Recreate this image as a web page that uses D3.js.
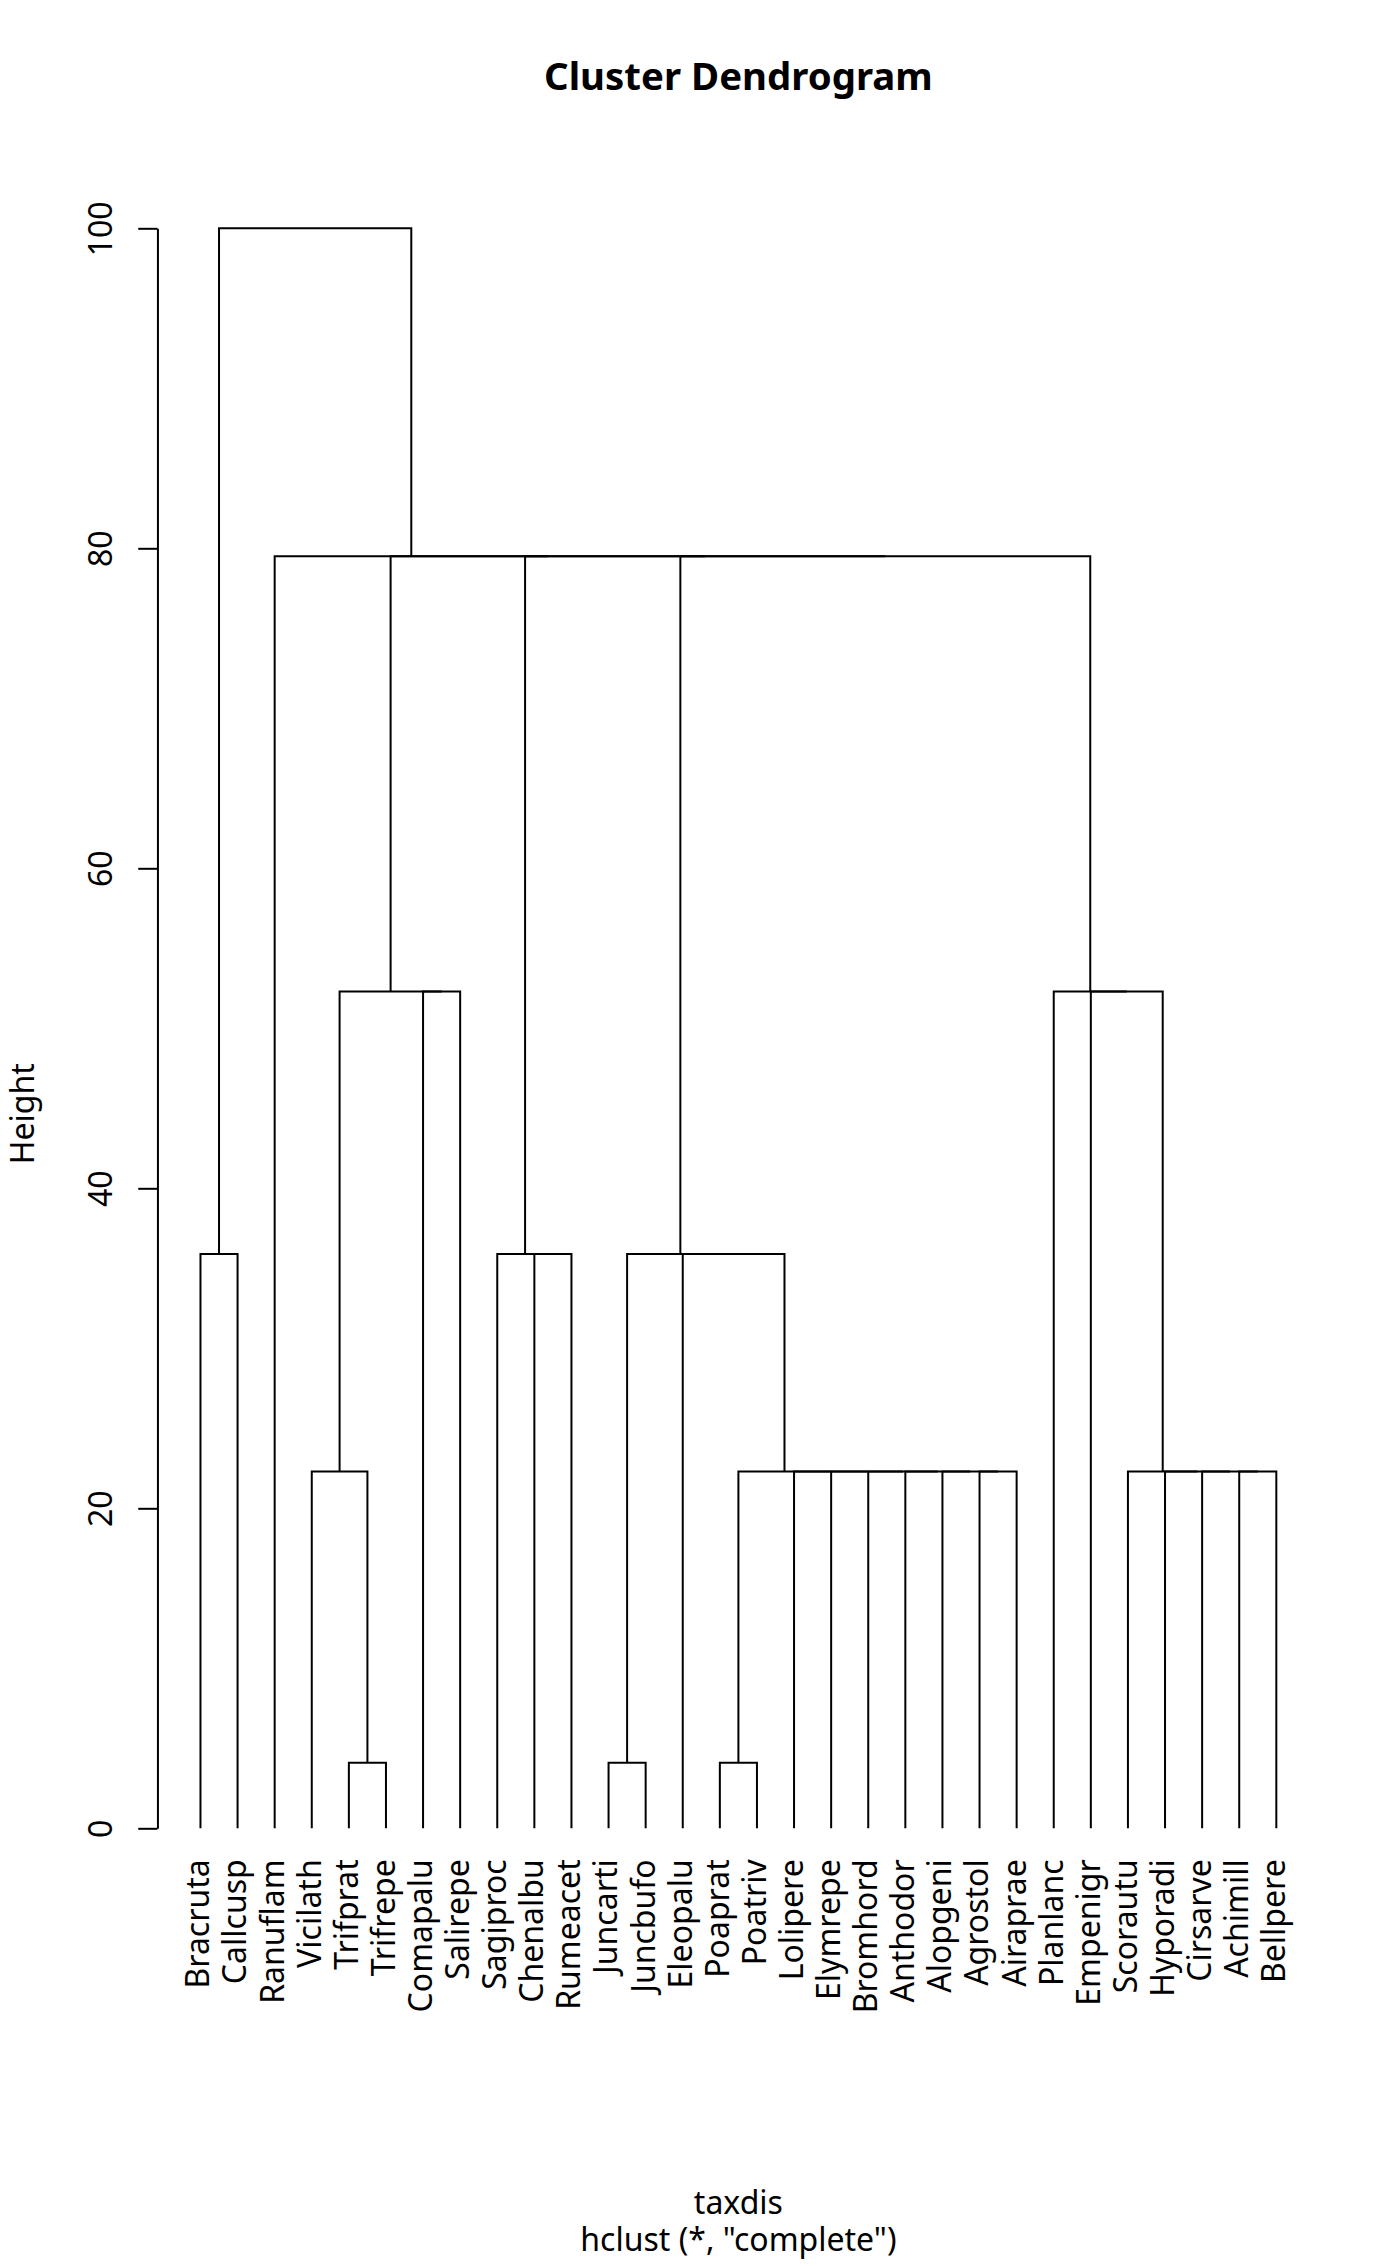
<!DOCTYPE html>
<html>
<head>
<meta charset="utf-8">
<script src="https://cdn.jsdelivr.net/npm/d3@7"></script>
<style>
  body { margin: 0; background: #ffffff; }
  text { font-family: "Noto Sans", sans-serif; fill: #000000; }
</style>
</head>
<body>
<div id="chart"></div>
<script>
// leaves in plotted order
const labels = ["Bracruta", "Callcusp", "Ranuflam", "Vicilath", "Trifprat", "Trifrepe",
    "Comapalu", "Salirepe", "Sagiproc", "Chenalbu", "Rumeacet", "Juncarti", "Juncbufo",
    "Eleopalu", "Poaprat", "Poatriv", "Lolipere", "Elymrepe", "Bromhord", "Anthodor",
    "Alopgeni", "Agrostol", "Airaprae", "Planlanc", "Empenigr", "Scorautu", "Hyporadi",
    "Cirsarve", "Achimill", "Bellpere"];

// merge table like R's hclust: negative = leaf (position in order), positive = earlier merge
const mergeLeft  = [-5, -12, -15, -4, -22, -21, -20, -19, -18, -17, 3, -29, -28, -27, -26,
    -1, -10, -9, -14, 2, -7, 4, -25, -24, 20, 18, 22, -3, 16];
const mergeRight = [-6, -13, -16, 1, -23, 5, 6, 7, 8, 9, 10, -30, 12, 13, 14,
    -2, -11, 17, 11, 19, -8, 21, 15, 23, 24, 25, 26, 27, 28];
const mergeHeight = [4.1, 4.1, 4.1, 22.3, 22.3, 22.3, 22.3, 22.3, 22.3, 22.3, 22.3, 22.3, 22.3, 22.3, 22.3,
    35.9, 35.9, 35.9, 35.9, 35.9, 52.3, 52.3, 52.3, 52.3, 79.5, 79.5, 79.5, 79.5, 100];

const yTicks = [0, 20, 40, 60, 80, 100];

const width = 1400;
const height = 2266;
const line = 38.4;
const margin = { top: 4.1 * line, right: 2.1 * line, bottom: 5.1 * line, left: 4.1 * line };

const svg = d3.select("#chart")
    .append("svg")
    .attr("width", width)
    .attr("height", height);

const n = labels.length;
const ext = 0.04 * (n - 1);
const xScale = d3.scaleLinear()
    .domain([1 - ext, n + ext])
    .range([margin.left, width - margin.right]);
const yScale = d3.scaleLinear()
    .domain([0, 100])
    .range([1828.3, 228.3]);

// x position / height of every node
const nodeX = [];
const nodeH = [];
const childPos = id => id < 0 ? { x: -id, h: 0 } : { x: nodeX[id - 1], h: nodeH[id - 1] };

const links = mergeHeight.map((h, i) => {
    const l = childPos(mergeLeft[i]);
    const r = childPos(mergeRight[i]);
    nodeX[i] = (l.x + r.x) / 2;
    nodeH[i] = h;
    return { l, r, h };
});

svg.append("g")
    .selectAll("path")
    .data(links)
    .enter()
    .append("path")
    .attr("fill", "none")
    .attr("stroke", "#000")
    .attr("stroke-width", 2)
    .attr("d", d => {
        const p = d3.path();
        p.moveTo(xScale(d.l.x), yScale(d.l.h));
        p.lineTo(xScale(d.l.x), yScale(d.h));
        p.lineTo(xScale(d.r.x), yScale(d.h));
        p.lineTo(xScale(d.r.x), yScale(d.r.h));
        return p.toString();
    });

// y axis
const yAxisGroup = svg.append("g")
    .attr("transform", `translate(${margin.left},0)`)
    .call(d3.axisLeft(yScale).tickValues(yTicks).tickSize(0.5 * line).tickSizeOuter(0));
yAxisGroup.select(".domain").attr("stroke-width", 2);
yAxisGroup.selectAll(".tick line").attr("stroke-width", 2);
yAxisGroup.selectAll(".tick text")
    .attr("x", null)
    .attr("dy", null)
    .attr("transform", "translate(-45.7,0) rotate(-90)")
    .attr("text-anchor", "middle")
    .style("font-family", "'Noto Sans', sans-serif")
    .style("font-size", "32px")
    .text(d => d);

// leaf labels
svg.append("g")
    .selectAll("text")
    .data(labels)
    .enter()
    .append("text")
    .attr("transform", (d, i) => `translate(${xScale(i + 1) + 8.9},${yScale(0) + 31}) rotate(-90)`)
    .attr("text-anchor", "end")
    .style("font-size", "32px")
    .text(d => d);

const cx = (margin.left + width - margin.right) / 2;

svg.append("text")
    .attr("x", cx)
    .attr("y", 90)
    .attr("text-anchor", "middle")
    .style("font-size", "38.4px")
    .style("font-weight", "bold")
    .text("Cluster Dendrogram");

svg.append("text")
    .attr("transform", `translate(34.3,${(margin.top + height - margin.bottom) / 2}) rotate(-90)`)
    .attr("text-anchor", "middle")
    .style("font-size", "32px")
    .text("Height");

svg.append("text")
    .attr("x", cx)
    .attr("y", 2214)
    .attr("text-anchor", "middle")
    .style("font-size", "32px")
    .text("taxdis");

svg.append("text")
    .attr("x", cx)
    .attr("y", 2251)
    .attr("text-anchor", "middle")
    .style("font-size", "32px")
    .text('hclust (*, "complete")');
</script>
</body>
</html>
